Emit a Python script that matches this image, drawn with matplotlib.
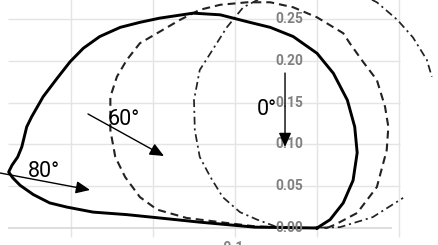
import numpy as np
import matplotlib
matplotlib.use("Agg")
import matplotlib.pyplot as plt

# ── Data ──────────────────────────────────────────────────────────────────────
# solid curve (80 deg)
solid_x = [0.000, 0.016, 0.032, 0.044, 0.049, 0.046, 0.037, 0.020, 0.000,
           -0.029, -0.057, -0.082, -0.118, -0.151, -0.192, -0.216, -0.240,
           -0.265, -0.285, -0.301, -0.317, -0.334, -0.348, -0.354, -0.360,
           -0.365, -0.372, -0.376, -0.371, -0.362, -0.346, -0.326, -0.305,
           -0.273, -0.232, -0.192, -0.143, -0.076, 0.000]
solid_y = [0.000, 0.010, 0.030, 0.057, 0.090, 0.121, 0.153, 0.185, 0.209,
           0.229, 0.240, 0.246, 0.255, 0.257, 0.251, 0.246, 0.240,
           0.229, 0.215, 0.199, 0.179, 0.157, 0.133, 0.121, 0.097,
           0.085, 0.075, 0.067, 0.060, 0.051, 0.040, 0.030, 0.025,
           0.019, 0.016, 0.012, 0.007, 0.001, 0.000]

# dashed curve (60 deg)
dash_x = [0.012, 0.022, 0.049, 0.073, 0.085, 0.087, 0.083, 0.073, 0.056,
          0.040, 0.032, 0.000, -0.029, -0.057, -0.085, -0.118, -0.143,
          -0.167, -0.195, -0.216, -0.232, -0.244, -0.252, -0.252, -0.246,
          -0.234, -0.216, -0.195, -0.159, -0.118, -0.076, -0.021, 0.012]
dash_y = [0.000, 0.004, 0.018, 0.049, 0.093, 0.121, 0.145, 0.177, 0.199,
          0.221, 0.233, 0.252, 0.264, 0.270, 0.270, 0.267, 0.261,
          0.249, 0.233, 0.221, 0.201, 0.181, 0.157, 0.117, 0.085,
          0.061, 0.037, 0.022, 0.012, 0.007, 0.002, 0.000, 0.000]

# dash-dot curve (0 deg), two visible pieces
dd_x = [-0.072, -0.090, -0.110, -0.130, -0.143, -0.150, -0.149, -0.143,
        -0.130, -0.115, -0.094, -0.073, -0.051, -0.021, 0.028, 0.068, 0.105,
        np.nan,
        0.067, 0.073, 0.098, 0.117, 0.134, 0.140]
dd_y = [0.273, 0.264, 0.240, 0.209, 0.189, 0.153, 0.117, 0.085,
        0.061, 0.037, 0.019, 0.010, 0.002, 0.000, 0.001, 0.013, 0.036,
        np.nan,
        0.273, 0.270, 0.249, 0.228, 0.201, 0.181]

y_ticks = [0.00, 0.05, 0.10, 0.15, 0.20, 0.25]
x_grid = [-0.3, -0.2, -0.1, 0.0, 0.1]

GRID = "#e4e4e4"
TICK = "#808080"

fig = plt.figure(figsize=(4.39, 2.45), dpi=100)
ax = fig.add_axes([0, 0, 1, 1])
ax.set_xlim(-317 / 820, 122 / 820)
ax.set_ylim(-17 / 836, 228 / 836)
ax.axis("off")

# grid
ax.hlines(y_ticks[1:], -0.377, 0.101, color=GRID, lw=1.0, zorder=0)
ax.vlines(x_grid, -0.011, 0.28, color=GRID, lw=1.0, zorder=0)
ax.hlines(0, -0.377, 0.091, color="#d4d4d4", lw=1.1, zorder=0)

# curves
ax.plot(dd_x, dd_y, color="#222222", lw=1.25, ls=(0, (4.5, 2.2, 1.2, 2.2)),
        clip_on=False)
ax.plot(dash_x, dash_y, color="#222222", lw=1.5, ls=(0, (3.8, 2.4)),
        clip_on=False)
ax.plot(solid_x, solid_y, color="black", lw=2.1, clip_on=False)

# y tick labels
for v in y_ticks:
    ax.text(-0.0171, v, f"{v:.2f}", ha="right", va="center", fontsize=10,
            fontweight="bold", color=TICK, family="Roboto")
ax.text(-0.105, -0.0156, "-0.1", ha="center", va="top", fontsize=10,
        fontweight="bold", color=TICK, family="Roboto")

# angle labels and arrows
ax.text(-0.2549, 0.1232, "60°", fontsize=15.5, family="Roboto",
        ha="left", va="baseline")
ax.text(-0.3524, 0.0610, "80°", fontsize=15.5, family="Roboto",
        ha="left", va="baseline")
ax.text(-0.0732, 0.1352, "0°", fontsize=15.5, family="Roboto",
        ha="left", va="baseline")


def arrow(x0, y0, x1, y1):
    ax.annotate("", xy=(x1, y1), xytext=(x0, y0),
                arrowprops=dict(arrowstyle="-|>,head_length=0.5,head_width=0.22",
                                color="black", lw=1.0, mutation_scale=17,
                                shrinkA=0, shrinkB=0))


arrow(-0.039, 0.1854, -0.039, 0.0969)
arrow(-0.2793, 0.1364, -0.1866, 0.0861)
arrow(-0.3866, 0.0658, -0.2768, 0.0455)

fig.savefig("out.png", dpi=100, facecolor="white")
